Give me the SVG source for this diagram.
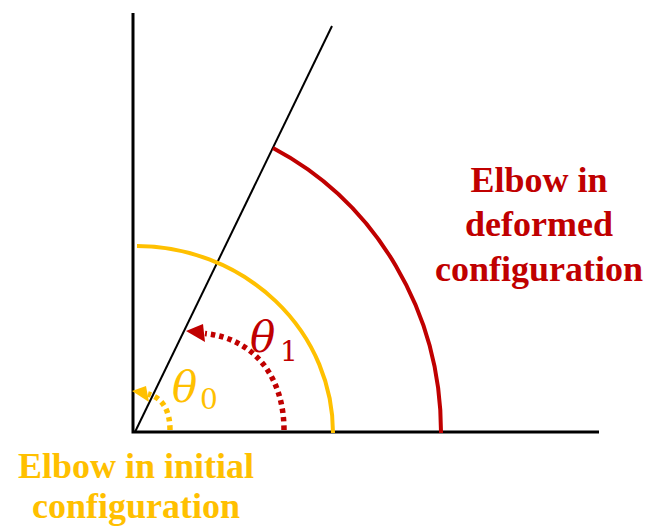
<svg xmlns="http://www.w3.org/2000/svg" width="649" height="532" viewBox="0 0 649 532">
<style>
.lbl{font-family:"Liberation Serif",serif;font-weight:bold;font-size:36px;text-anchor:middle}
.th{font-family:"DejaVu Serif",serif;font-style:italic;font-size:42px}
.sub{font-family:"DejaVu Serif",serif;font-size:28px}
.red{fill:#C00000}
.yel{fill:#FFC000}
.dot{fill:none;stroke-width:5.5;stroke-dasharray:4.5,4}
</style>
<g id="axes" fill="none" stroke="#000">
<path d="M133,13V432H599" stroke-width="3"/>
<path d="M135,432L332,26" stroke-width="2"/>
</g>
<g id="arcs" fill="none" stroke-width="4">
<path d="M441,433A308,319 0 0 0 273,148" stroke="#C00000"/>
<path d="M333,433A197,187 0 0 0 137,246" stroke="#FFC000"/>
</g>
<g id="connectors">
<path class="dot" d="M284,430C284,380 257,339 205,333.5" stroke="#C00000"/>
<path d="M186,331L203,324L205,342z" fill="#C00000"/>
<path class="dot" d="M170,430C170,411 163,398 148,394" stroke="#FFC000"/>
<path d="M132,391L146,386L149,402z" fill="#FFC000"/>
</g>
<g id="theta1"><text class="th red" x="250" y="352">θ</text><text class="sub red" x="280" y="361">1</text></g>
<g id="theta0"><text class="th yel" x="172" y="402">θ</text><text class="sub yel" x="200" y="409">0</text></g>
<g id="deformed-label" class="red">
<text class="lbl" x="539" y="192">Elbow in</text>
<text class="lbl" x="539" y="236">deformed</text>
<text class="lbl" x="539" y="281">configuration</text>
</g>
<g id="initial-label" class="yel">
<text class="lbl" x="136" y="478">Elbow in initial</text>
<text class="lbl" x="136" y="518">configuration</text>
</g>
</svg>
